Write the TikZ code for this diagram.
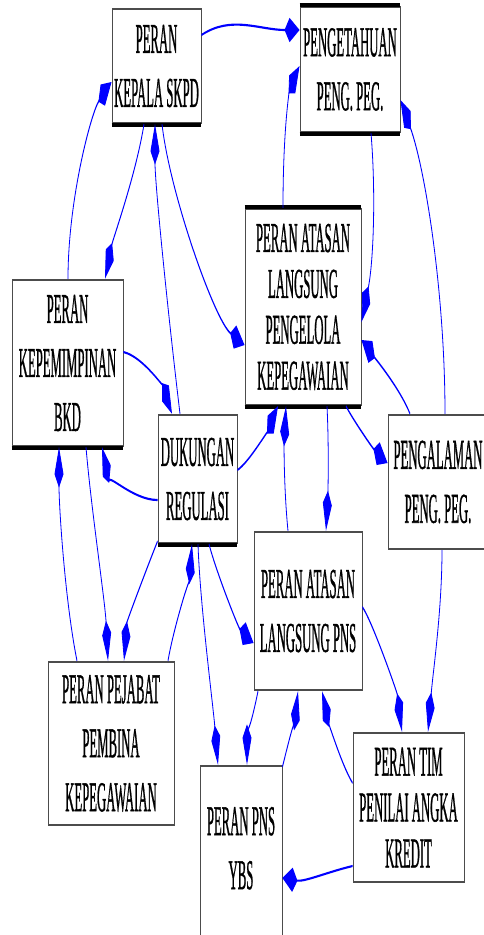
\documentclass[tikz,border=0pt]{standalone}
\usepackage{fontspec}
\setmainfont{Liberation Serif}
\newfontfamily\boxfont[FakeStretch=0.81,FakeBold=1.2]{Liberation Serif}
\usetikzlibrary{arrows.meta,calc}

% The whole drawing is laid out in pixel units and then stretched
% vertically by 2.7 (y unit 1/2.7 pt inside the stretched scope).
\tikzset{
  box/.style={draw=black!70, line width=0.9pt, fill=white, inner sep=0pt,
    align=center, font=\boxfont\fontsize{15.7}{20}\selectfont},
  tight/.style={font=\boxfont\fontsize{15.7}{17}\selectfont},
  hpx/.style={minimum height={#1*0.37037pt}},
  heavyrule/.style={line width=1.5pt, black},
  link/.style={draw={rgb,255:red,0;green,0;blue,255}, line width=0.8pt,
    -{Kite[length=15pt,width=9pt,inset=5pt]}},
}

\begin{document}
\begin{tikzpicture}[x=1pt,y=-1pt]
\useasboundingbox (0,0) rectangle (484,935);
\fill[white] (0,0) rectangle (484,935);

\begin{scope}[transform canvas={yscale=2.7}, y=-0.37037pt]
  % boxes
  \node[box, minimum width=89pt,  hpx=114] (kep)  at (156.5,66)   {PERAN\\KEPALA SKPD};
  \node[box, minimum width=100pt, hpx=125] (tahu) at (350,69.5)   {PENGETAHUAN\\PENG. PEG.};
  \node[box, tight, minimum width=116pt, hpx=196] (olah) at (303,307)
       {PERAN ATASAN\\LANGSUNG\\PENGELOLA\\KEPEGAWAIAN};
  \node[box, minimum width=111pt, hpx=166] (bkd)  at (67.5,363)   {PERAN\\KEPEMIMPINAN\\BKD};
  \node[box, minimum width=79pt,  hpx=128] (reg)  at (197.5,479)  {DUKUNGAN\\REGULASI};
  \node[box, minimum width=100pt, hpx=134] (alam) at (438,482)    {PENGALAMAN\\PENG. PEG.};
  \node[box, minimum width=108pt, hpx=158] (pns)  at (308,611)    {PERAN ATASAN\\LANGSUNG PNS};
  \node[box, minimum width=126pt, hpx=163] (pej)  at (111,743.5)
       {PERAN PEJABAT\\PEMBINA\\KEPEGAWAIAN};
  \node[box, minimum width=82pt,  hpx=174, text depth=3.7pt] (ybs) at (241,853) {PERAN PNS\\YBS};
  \node[box, tight, minimum width=111pt, hpx=149] (tim) at (408.5,807.5)
       {PERAN TIM\\PENILAI ANGKA\\KREDIT};

  % heavy edges under and over some boxes
  \draw[heavyrule] ([yshift=-0.3pt]kep.south west)  -- ([yshift=-0.3pt]kep.south east);
  \draw[heavyrule] ([yshift=0.3pt]tahu.north west)  -- ([yshift=0.3pt]tahu.north east);
  \draw[heavyrule] ([yshift=-0.4pt]tahu.south west) -- ([yshift=-0.4pt]tahu.south east);
  \draw[heavyrule] ([yshift=0.3pt]olah.north west)  -- ([yshift=0.3pt]olah.north east);
  \draw[heavyrule] ([yshift=-0.4pt]olah.south west) -- ([yshift=-0.4pt]olah.south east);
  \draw[heavyrule] ([yshift=-0.4pt]bkd.south west)  -- ([yshift=-0.4pt]bkd.south east);
  \draw[heavyrule] ([yshift=-0.4pt]reg.south west)  -- ([yshift=-0.4pt]reg.south east);

  % connectors
  \draw[link] ($(kep.east)+(0,-31)$) .. controls +(30,-20) and +(-40,0) .. ($(tahu.west)+(0,-39.5)$);
  \draw[link] ($(olah.north)+(-20,0)$) .. controls +(0,-80) and +(-10,25) .. ($(tahu.west)+(0,-3.5)$);
  \draw[link] ($(tahu.south)+(21,0)$) .. controls +(5,60) and +(12,-60) .. ($(olah.east)+(0,15)$);
  \draw[link] ($(alam.north)+(7,0)$) .. controls +(0,-120) and +(25,70) .. ($(tahu.east)+(0,30.5)$);
  \draw[link] ($(alam.north)+(-28,0)$) .. controls +(-10,-25) and +(15,20) .. ($(olah.east)+(0,33)$);
  \draw[link] ($(olah.south)+(43,0)$) .. controls +(8,15) and +(-15,-15) .. ($(alam.west)+(0,-19)$);
  \draw[link] ($(olah.south)+(24,0)$) .. controls +(2,40) and +(2,-40) .. ($(pns.north)+(18,0)$);
  \draw[link] ($(pns.north)+(-20,0)$) .. controls +(-4,-40) and +(-2,40) .. ($(olah.south)+(-17,0)$);
  \draw[link] ($(reg.east)+(0,-9)$) .. controls +(12,-8) and +(-8,20) .. ($(olah.south)+(-25,0)$);
  \draw[link] ($(kep.south)+(5.5,0)$) .. controls +(8,70) and +(-30,-25) .. ($(olah.west)+(0,38)$);
  \draw[link] ($(reg.north)+(-17.5,0)$) .. controls +(-12,-100) and +(0,60) .. ($(kep.south)+(-1.5,0)$);
  \draw[link] ($(kep.south)+(-12.5,0)$) .. controls +(-8,50) and +(8,-40) .. ($(bkd.north)+(37.5,0)$);
  \draw[link] ($(bkd.north)+(0.5,0)$) .. controls +(0,-80) and +(-20,30) .. ($(kep.west)+(0,16)$);
  \draw[link] ($(bkd.east)+(0,-11)$) .. controls +(20,5) and +(-8,-25) .. ($(reg.north)+(-25.5,0)$);
  \draw[link] ($(reg.west)+(0,21)$) .. controls +(-25,0) and +(5,25) .. ($(bkd.south)+(34.5,0)$);
  \draw[link] ($(pej.north)+(-34,0)$) .. controls +(-12,-60) and +(0,60) .. ($(bkd.south)+(-8.5,0)$);
  \draw[link] ($(bkd.south)+(18.5,0)$) .. controls +(5,60) and +(-3,-60) .. ($(pej.north)+(-3,0)$);
  \draw[link] ($(reg.south west)+(0,-3)$) .. controls +(-10,25) and +(3,-40) .. ($(pej.north)+(13,0)$);
  \draw[link] ($(pej.north)+(57,0)$) .. controls +(5,-30) and +(-2,30) .. ($(reg.south)+(-5.5,0)$);
  \draw[link] ($(reg.south)+(0.5,0)$) .. controls +(2,60) and +(-5,-60) .. ($(ybs.north)+(-23,0)$);
  \draw[link] ($(reg.south)+(11.5,0)$) .. controls +(8,30) and +(-15,-15) .. ($(pns.west)+(0,32)$);
  \draw[link] ($(pns.south)+(-50,0)$) .. controls +(-4,20) and +(0,-25) .. ($(ybs.north)+(6,0)$);
  \draw[link] ($(ybs.north east)+(0,2)$) .. controls +(5,-20) and +(-2,20) .. ($(pns.south)+(-10,0)$);
  \draw[link] ($(tim.west)+(0,-24.5)$) .. controls +(-12,-20) and +(5,25) .. ($(pns.south)+(14,0)$);
  \draw[link] ($(pns.east)+(0,-4)$) .. controls +(10,15) and +(-5,-40) .. ($(tim.north)+(-6.5,0)$);
  \draw[link] ($(alam.south)+(4,0)$) .. controls +(0,60) and +(5,-60) .. ($(tim.north)+(19.5,0)$);
  \draw[link] ($(tim.west)+(0,58.5)$) .. controls +(-25,6) and +(22,4) .. ($(ybs.east)+(0,25)$);
\end{scope}
\end{tikzpicture}
\end{document}
